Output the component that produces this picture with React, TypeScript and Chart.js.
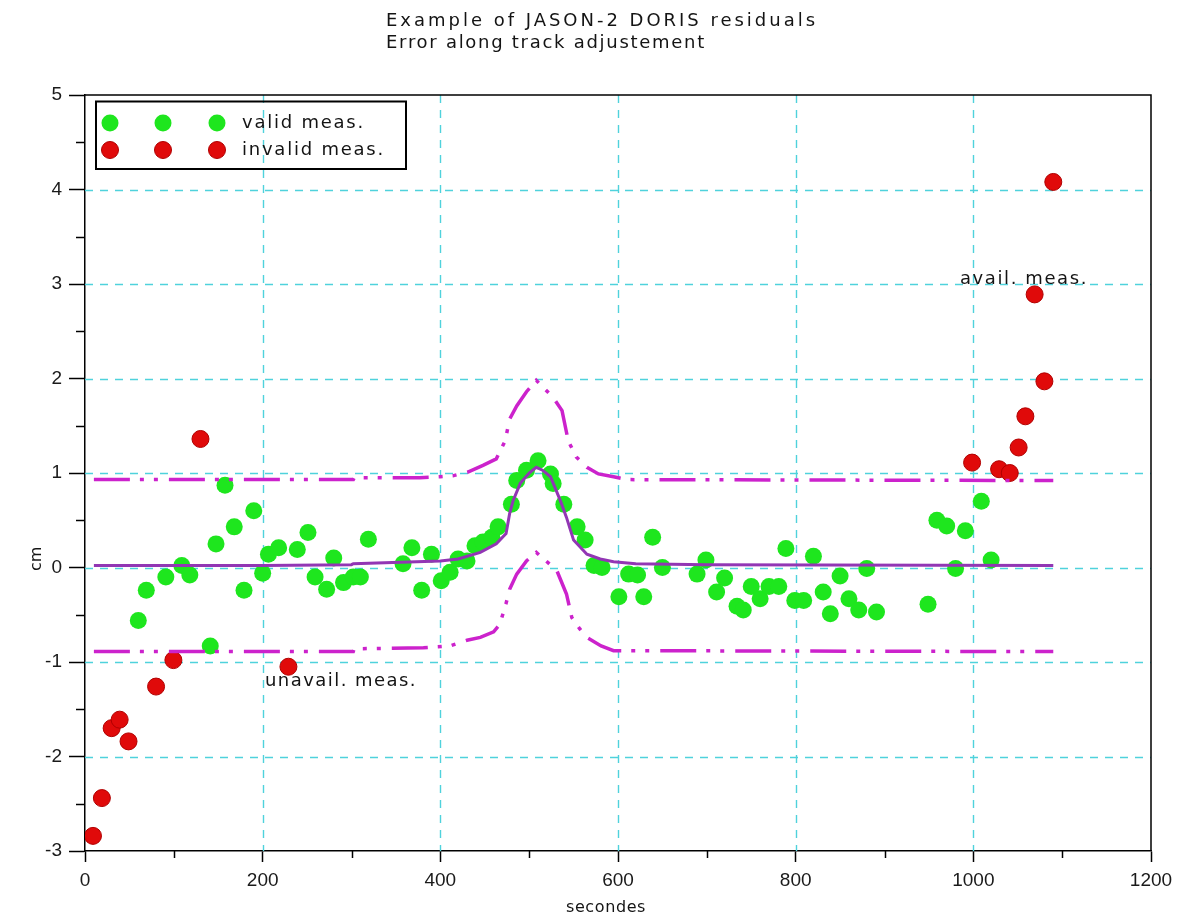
import React, { useEffect, useRef } from "react";
import { Chart, registerables } from "chart.js";

Chart.register(...registerables);

// ---- Data ----
const TITLE_LINES = ["Example of JASON-2 DORIS residuals", "Error along track adjustement"];
const X_LABEL = "secondes";
const Y_LABEL = "cm";
const LEGEND_LABELS = ["valid meas.", "invalid meas."];
const NOTE_AVAIL = "avail. meas.";
const NOTE_UNAVAIL = "unavail. meas.";

const validX = [60, 69, 91, 109, 118, 141, 147.5, 157.6, 168, 179, 190, 200, 206.5, 218, 239, 251, 259, 272, 280, 291, 302, 310, 319, 358, 368, 379, 390, 401, 411, 420, 430, 439, 448, 458, 465, 480, 486, 497, 510, 524, 527, 539, 554, 563, 573, 582, 601, 612, 622, 629, 639, 650, 689, 699, 711, 720, 734, 741, 750, 760, 770, 781, 789, 799, 809, 820, 831, 839, 850, 860, 871, 880, 891, 949, 959, 970, 980, 991, 1009, 1020];
const validY = [-0.56, -0.24, -0.10, 0.02, -0.08, -0.83, 0.25, 0.87, 0.43, -0.24, 0.60, -0.06, 0.14, 0.21, 0.19, 0.37, -0.10, -0.23, 0.10, -0.16, -0.10, -0.10, 0.30, 0.04, 0.21, -0.24, 0.14, -0.14, -0.05, 0.09, 0.07, 0.23, 0.27, 0.32, 0.43, 0.67, 0.92, 1.03, 1.13, 0.99, 0.89, 0.67, 0.43, 0.29, 0.02, 0.0, -0.31, -0.07, -0.08, -0.31, 0.32, 0.0, -0.07, 0.08, -0.26, -0.11, -0.41, -0.45, -0.20, -0.33, -0.20, -0.20, 0.20, -0.35, -0.35, 0.12, -0.26, -0.49, -0.09, -0.33, -0.45, -0.01, -0.47, -0.39, 0.50, 0.44, -0.01, 0.39, 0.70, 0.08];

const invalidX = [9, 19, 30, 39, 49, 80, 99.5, 130, 229, 998.6, 1029, 1041, 1051, 1058.6, 1069, 1080, 1090];
const invalidY = [-2.84, -2.44, -1.70, -1.61, -1.84, -1.26, -0.98, 1.36, -1.05, 1.11, 1.04, 1.00, 1.27, 1.60, 2.89, 1.97, 4.08];

const centerX = [10, 100, 200, 300, 302, 400, 420, 445, 463, 474, 478, 482, 490, 500, 508, 515, 524, 535, 542, 550, 565, 580, 595, 620, 700, 1090];
const centerY = [0.02, 0.02, 0.02, 0.03, 0.04, 0.07, 0.09, 0.16, 0.25, 0.36, 0.57, 0.71, 0.89, 1.0, 1.06, 1.03, 0.96, 0.71, 0.53, 0.29, 0.14, 0.09, 0.06, 0.04, 0.03, 0.02];

const upperX = [10, 302, 303, 377, 400, 414, 431, 448, 463, 473, 478, 486, 497, 508, 527, 537, 544, 553, 565, 578, 595, 610, 1090];
const upperY = [0.93, 0.93, 0.95, 0.95, 0.96, 0.97, 1.01, 1.08, 1.15, 1.34, 1.57, 1.71, 1.86, 1.98, 1.80, 1.66, 1.34, 1.17, 1.06, 0.99, 0.96, 0.93, 0.92];

const lowerX = [10, 302, 303, 381, 411, 430, 445, 460, 467, 474, 478, 486, 497, 508, 531, 542, 548, 557, 565, 581, 595, 1090];
const lowerY = [-0.89, -0.89, -0.86, -0.85, -0.83, -0.77, -0.74, -0.68, -0.60, -0.38, -0.23, -0.07, 0.07, 0.16, -0.03, -0.28, -0.53, -0.65, -0.74, -0.83, -0.88, -0.89];

const X_MIN = 0, X_MAX = 1200, X_STEP = 200, X_MINOR = 100;
const Y_MIN = -3, Y_MAX = 5, Y_STEP = 1, Y_MINOR = 0.5;

// ---- Styles ----
const GREEN = "#1ee61e";
const RED = "#e00a0a";
const PURPLE = "#9236b4";
const MAGENTA = "#cc22cc";
const GRID = "#4fd2dc";
const FONT = "'Liberation Sans', Arial, sans-serif";
const TEXT_FONT = "'DejaVu Sans', sans-serif";

const pts = (xs: number[], ys: number[]) => xs.map((x, i) => ({ x, y: ys[i] }));

function fitText(ctx: CanvasRenderingContext2D, text: string, x: number, y: number, width: number, size: number, align: "left" | "center" = "left") {
  ctx.save();
  ctx.font = `${size}px ${TEXT_FONT}`;
  (ctx as any).letterSpacing = "0px";
  const w = ctx.measureText(text).width;
  const sp = Math.max(0, (width - w) / text.length);
  (ctx as any).letterSpacing = `${sp}px`;
  ctx.textAlign = "left";
  ctx.textBaseline = "middle";
  ctx.fillStyle = "#141414";
  const x0 = align === "center" ? x - width / 2 : x;
  ctx.fillText(text, x0, y);
  ctx.restore();
}

const decorPlugin = {
  id: "decor",
  beforeDatasetsDraw(chart: any) {
    const { ctx, chartArea: a, scales } = chart;
    const xs = scales.x, ys = scales.y;
    ctx.save();
    ctx.strokeStyle = GRID;
    ctx.lineWidth = 1.4;
    ctx.setLineDash([8, 7]);
    for (let v = X_MIN + X_STEP; v < X_MAX; v += X_STEP) {
      const px = Math.round(xs.getPixelForValue(v)) + 0.5;
      ctx.beginPath(); ctx.moveTo(px, a.top); ctx.lineTo(px, a.bottom); ctx.stroke();
    }
    for (let v = Y_MIN + Y_STEP; v < Y_MAX; v += Y_STEP) {
      const py = Math.round(ys.getPixelForValue(v)) + 0.5;
      ctx.beginPath(); ctx.moveTo(a.left, py); ctx.lineTo(a.right, py); ctx.stroke();
    }
    ctx.restore();
  },
  afterDraw(chart: any) {
    const { ctx, chartArea: a, scales } = chart;
    const xs = scales.x, ys = scales.y;
    ctx.save();
    ctx.strokeStyle = "#000";
    ctx.lineWidth = 1.5;
    ctx.beginPath();
    ctx.moveTo(a.left, a.top); ctx.lineTo(a.right, a.top); ctx.lineTo(a.right, a.bottom);
    ctx.stroke();
    for (let v = X_MIN + X_MINOR; v < X_MAX; v += X_STEP) {
      const px = Math.round(xs.getPixelForValue(v)) + 0.5;
      ctx.beginPath(); ctx.moveTo(px, a.bottom); ctx.lineTo(px, a.bottom + 7); ctx.stroke();
    }
    for (let v = Y_MIN + Y_MINOR; v < Y_MAX; v += Y_STEP) {
      const py = Math.round(ys.getPixelForValue(v)) + 0.5;
      ctx.beginPath(); ctx.moveTo(a.left - 9, py); ctx.lineTo(a.left, py); ctx.stroke();
    }
    ctx.lineWidth = 2;
    ctx.strokeRect(96, 101.5, 310, 67.5);
    const mx = [110, 163, 217];
    for (const m of mx) {
      ctx.beginPath(); ctx.arc(m, 123, 8.5, 0, Math.PI * 2); ctx.fillStyle = GREEN; ctx.fill();
      ctx.beginPath(); ctx.arc(m, 150, 8.5, 0, Math.PI * 2); ctx.fillStyle = RED; ctx.fill();
      ctx.lineWidth = 1; ctx.strokeStyle = "#b00000"; ctx.stroke();
    }
    ctx.restore();
    fitText(ctx, LEGEND_LABELS[0], 242, 123, 123, 18);
    fitText(ctx, LEGEND_LABELS[1], 242, 150, 143, 18);
    fitText(ctx, TITLE_LINES[0], 386, 21, 432, 18);
    fitText(ctx, TITLE_LINES[1], 386, 43, 320, 18);
    fitText(ctx, NOTE_AVAIL, 960, 279, 128, 18);
    fitText(ctx, NOTE_UNAVAIL, 265, 681, 152, 18);
    fitText(ctx, X_LABEL, 606, 908, 80, 16, "center");
    ctx.save();
    ctx.translate(37, 560);
    ctx.rotate(-Math.PI / 2);
    fitText(ctx, Y_LABEL, 0, 0, 22, 16, "center");
    ctx.restore();
  },
};

export default function App() {
  const ref = useRef<HTMLCanvasElement | null>(null);
  useEffect(() => {
    if (!ref.current) return;
    const dashDot = [36, 10, 4, 10, 4, 11];
    const chart = new Chart(ref.current, {
      type: "scatter",
      data: {
        datasets: [
          { label: "fit", data: pts(centerX, centerY), showLine: true, pointRadius: 0, borderColor: PURPLE, borderWidth: 3, order: 0 } as any,
          { label: "upper", data: pts(upperX, upperY), showLine: true, pointRadius: 0, borderColor: MAGENTA, borderWidth: 3.5, borderDash: dashDot, order: 0 } as any,
          { label: "lower", data: pts(lowerX, lowerY), showLine: true, pointRadius: 0, borderColor: MAGENTA, borderWidth: 3.5, borderDash: dashDot, order: 0 } as any,
          { label: LEGEND_LABELS[0], data: pts(validX, validY), pointRadius: 8.5, pointBackgroundColor: GREEN, pointBorderWidth: 0, order: 2 } as any,
          { label: LEGEND_LABELS[1], data: pts(invalidX, invalidY), pointRadius: 8.5, pointBackgroundColor: RED, pointBorderColor: "#b00000", pointBorderWidth: 1, order: 1 } as any,
        ],
      },
      options: {
        animation: false,
        responsive: false,
        devicePixelRatio: 1,
        layout: { padding: { top: 95, right: 33, left: 0, bottom: 0 } },
        plugins: { legend: { display: false }, tooltip: { enabled: false }, title: { display: false } },
        scales: {
          x: {
            type: "linear",
            min: X_MIN, max: X_MAX,
            ticks: { stepSize: X_STEP, padding: 7, color: "#1a1a1a", font: { family: FONT, size: 19 }, callback: (v: any) => String(v) },
            grid: { display: true, drawOnChartArea: false, drawTicks: true, tickLength: 11, tickColor: "#000", tickWidth: 1.5 },
            border: { display: true, color: "#000", width: 1.5 },
            afterFit: (s: any) => { s.height = 69; },
          },
          y: {
            type: "linear",
            min: Y_MIN, max: Y_MAX,
            ticks: { stepSize: Y_STEP, padding: 7, color: "#1a1a1a", font: { family: FONT, size: 19 }, callback: (v: any) => String(v) },
            grid: { display: true, drawOnChartArea: false, drawTicks: true, tickLength: 16, tickColor: "#000", tickWidth: 1.5 },
            border: { display: true, color: "#000", width: 1.5 },
            afterFit: (s: any) => { s.width = 85; },
          },
        },
      } as any,
      plugins: [decorPlugin],
    });
    return () => chart.destroy();
  }, []);
  return (
    <div style={{ position: "absolute", left: 0, top: 0, width: 1184, height: 920, background: "#fff" }}>
      <canvas ref={ref} width={1184} height={920} style={{ display: "block", width: 1184, height: 920 }} />
    </div>
  );
}
